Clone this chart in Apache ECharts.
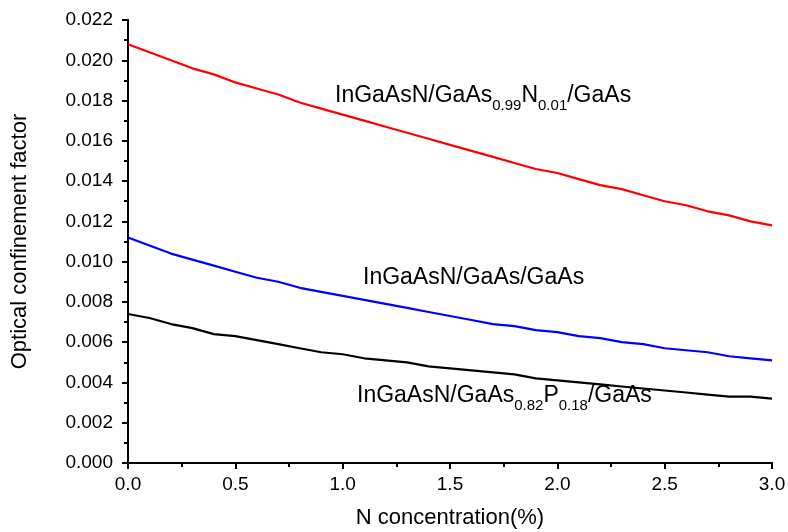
<!DOCTYPE html>
<html>
<head>
<meta charset="utf-8">
<script src="https://cdn.jsdelivr.net/npm/echarts@6/dist/echarts.min.js"></script>
<style>
  html, body { margin: 0; padding: 0; background: #fff; }
  #chart { width: 788px; height: 532px; }
</style>
</head>
<body>
<div id="chart"></div>
<script>
// N concentration (%) from 0.0 to 3.0 step 0.1
const nConc = [0.0, 0.1, 0.2, 0.3, 0.4, 0.5, 0.6, 0.7, 0.8, 0.9, 1.0, 1.1, 1.2, 1.3, 1.4, 1.5,
  1.6, 1.7, 1.8, 1.9, 2.0, 2.1, 2.2, 2.3, 2.4, 2.5, 2.6, 2.7, 2.8, 2.9, 3.0];

// InGaAsN/GaAs0.99N0.01/GaAs (red)
const redVals = [0.0208, 0.0204, 0.0200, 0.0196, 0.0193, 0.0189, 0.0186, 0.0183, 0.0179, 0.0176,
  0.0173, 0.0170, 0.0167, 0.0164, 0.0161, 0.0158, 0.0155, 0.0152, 0.0149, 0.0146,
  0.0144, 0.0141, 0.0138, 0.0136, 0.0133, 0.0130, 0.0128, 0.0125, 0.0123, 0.0120, 0.0118];

// InGaAsN/GaAs/GaAs (blue)
const blueVals = [0.0112, 0.0108, 0.0104, 0.0101, 0.0098, 0.0095, 0.0092, 0.0090, 0.0087, 0.0085,
  0.0083, 0.0081, 0.0079, 0.0077, 0.0075, 0.0073, 0.0071, 0.0069, 0.0068, 0.0066,
  0.0065, 0.0063, 0.0062, 0.0060, 0.0059, 0.0057, 0.0056, 0.0055, 0.0053, 0.0052, 0.0051];

// InGaAsN/GaAs0.82P0.18/GaAs (black)
const blackVals = [0.0074, 0.0072, 0.0069, 0.0067, 0.0064, 0.0063, 0.0061, 0.0059, 0.0057, 0.0055,
  0.0054, 0.0052, 0.0051, 0.0050, 0.0048, 0.0047, 0.0046, 0.0045, 0.0044, 0.0042,
  0.0041, 0.0040, 0.0039, 0.0038, 0.0037, 0.0036, 0.0035, 0.0034, 0.0033, 0.0033, 0.0032];

const font = 'Liberation Sans, Arial, sans-serif';

const pairs = vals => nConc.map((x, i) => [x, vals[i]]);

const chart = echarts.init(document.getElementById('chart'));

// rich text styles for the curve labels (subscripts pushed down with padding)
const rich = {
  a: { fontSize: 23, fontFamily: font, color: '#000', verticalAlign: 'top', lineHeight: 26 },
  s: { fontSize: 15, fontFamily: font, color: '#000', verticalAlign: 'top', lineHeight: 18,
       padding: [14, 0, 0, 0] }
};

const tickStyle = { color: '#000', width: 2 };

const option = {
  animation: false,
  backgroundColor: '#fff',
  grid: { left: 128, right: 16, top: 20, bottom: 69, containLabel: false, outerBoundsMode: 'none' },
  xAxis: [
    {
      type: 'value', min: 0, max: 3, interval: 0.5,
      name: 'N concentration(%)', nameLocation: 'middle', nameGap: 44,
      nameTextStyle: { fontSize: 22, fontFamily: font, color: '#000' },
      axisLine: { lineStyle: { color: '#000', width: 2 } },
      axisTick: { inside: false, length: 6, lineStyle: tickStyle },
      minorTick: { show: true, splitNumber: 2, length: 4, lineStyle: tickStyle },
      axisLabel: { fontSize: 19, fontFamily: font, color: '#000', margin: 12,
        formatter: v => v.toFixed(1) },
      splitLine: { show: false }
    },
    {
      type: 'value', min: 0, max: 3, interval: 0.5, position: 'top',
      axisLine: { lineStyle: { color: '#000', width: 2 } },
      axisTick: { inside: true, length: 6, lineStyle: tickStyle },
      minorTick: { show: true, splitNumber: 2, length: 4, lineStyle: tickStyle },
      axisLabel: { show: false },
      splitLine: { show: false }
    }
  ],
  yAxis: [
    {
      type: 'value', min: 0, max: 0.022, interval: 0.002,
      name: 'Optical confinement factor', nameLocation: 'middle', nameGap: 97,
      nameTextStyle: { fontSize: 22, fontFamily: font, color: '#000' },
      axisLine: { lineStyle: { color: '#000', width: 2 } },
      axisTick: { inside: false, length: 6, lineStyle: tickStyle },
      minorTick: { show: true, splitNumber: 2, length: 4, lineStyle: tickStyle },
      axisLabel: { fontSize: 19, fontFamily: font, color: '#000', margin: 15,
        formatter: v => v.toFixed(3) },
      splitLine: { show: false }
    },
    {
      type: 'value', min: 0, max: 0.022, interval: 0.002, position: 'right',
      axisLine: { lineStyle: { color: '#000', width: 2 } },
      axisTick: { inside: true, length: 6, lineStyle: tickStyle },
      minorTick: { show: true, splitNumber: 2, length: 4, lineStyle: tickStyle },
      axisLabel: { show: false },
      splitLine: { show: false }
    }
  ],
  series: [
    {
      name: 'red', type: 'line', data: pairs(redVals), showSymbol: false,
      lineStyle: { color: '#ff0000', width: 2.2 }
    },
    {
      name: 'blue', type: 'line', data: pairs(blueVals), showSymbol: false,
      lineStyle: { color: '#0000ff', width: 2.2 }
    },
    {
      name: 'black', type: 'line', data: pairs(blackVals), showSymbol: false,
      lineStyle: { color: '#000000', width: 2.2 }
    }
  ],
  graphic: [
    {
      type: 'text', left: 335, top: 84,
      style: { text: '{a|InGaAsN/GaAs}{s|0.99}{a|N}{s|0.01}{a|/GaAs}', rich: rich }
    },
    {
      type: 'text', left: 363, top: 266,
      style: { text: '{a|InGaAsN/GaAs/GaAs}', rich: rich }
    },
    {
      type: 'text', left: 357, top: 384,
      style: { text: '{a|InGaAsN/GaAs}{s|0.82}{a|P}{s|0.18}{a|/GaAs}', rich: rich }
    }
  ]
};

chart.setOption(option);
window.addEventListener('resize', () => chart.resize());
</script>
</body>
</html>
